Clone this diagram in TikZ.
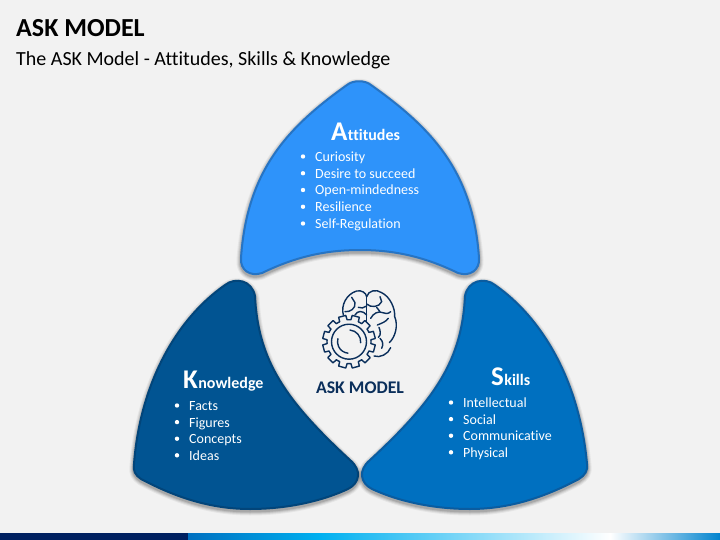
\documentclass[tikz,border=0pt]{standalone}
\usepackage{fontspec}
\setmainfont[Ligatures=NoCommon]{Carlito}
\usetikzlibrary{calc}
\definecolor{pagegray}{HTML}{F2F2F2}
\definecolor{attfill}{HTML}{2E93FA}
\definecolor{attline}{HTML}{2674C4}
\definecolor{knowfill}{HTML}{015492}
\definecolor{knowline}{HTML}{02457A}
\definecolor{skillfill}{HTML}{0070C0}
\definecolor{skillline}{HTML}{0A5CA0}
\definecolor{iconblue}{HTML}{0B2F5B}
\definecolor{bardark}{HTML}{002060}
\definecolor{barmid}{HTML}{00B0F0}
\tikzset{
	bighead/.style={text=white,font=\bfseries\fontsize{27}{27}\selectfont,inner sep=0pt,anchor=base west},
	smallhead/.style={text=white,font=\bfseries\fontsize{16}{16}\selectfont,inner sep=0pt,anchor=base west},
	bullet/.style={text=white,font=\fontsize{14}{14}\selectfont,inner sep=0pt,anchor=base west},
	dot/.style={circle,fill=white,inner sep=0pt,minimum size=4.4pt},
	iconline/.style={draw=iconblue,line width=1.4pt,line cap=round,line join=round}
}
\newcommand{\petal}[3]{
	\foreach \w/\o in {9/.05,7/.07,5/.09,3/.12}
		\draw[black,opacity=\o,line width=\w pt,yshift=-2pt,line join=round] #1;
	\draw[fill=#2,draw=#3,line width=2pt,line join=round] #1;
}
\begin{document}
\begin{tikzpicture}[x=1pt,y=-1pt]
	\useasboundingbox (0,0) rectangle (720,540);
	\fill[pagegray] (0,0) rectangle (720,540);
	% bottom bar
	\fill[bardark] (0,533) rectangle (188,540);
	\shade[left color=skillfill,right color=barmid] (188,533) rectangle (320,540);
	\shade[left color=barmid,right color=white] (320,533) rectangle (610,540);
	\shade[left color=white,right color=skillfill!70!barmid] (610,533) rectangle (720,540);
	% title
	\node[anchor=base west,inner sep=0pt,font=\bfseries\fontsize{26}{26}\selectfont] (title) at (16,37) {ASK MODEL};
	\node[anchor=base west,inner sep=0pt,font=\fontsize{20}{20}\selectfont] (subtitle) at (16,66) {The ASK Model - Attitudes, Skills \& Knowledge};
	% petals
	\petal{(347,85) .. controls (353,80) and (365,80) .. (371,85)
		.. controls (430,127) and (473,170) .. (479,258)
		.. controls (480,270) and (470,277) .. (458,273)
		.. controls (425,257) and (395,250) .. (360,250)
		.. controls (325,250) and (295,257) .. (262,273)
		.. controls (250,277) and (240,270) .. (241,258)
		.. controls (247,170) and (288,127) .. (347,85) -- cycle}{attfill}{attline}
	\petal{(225,285) .. controls (235,277) and (252,280) .. (255,296)
		.. controls (258,360) and (285,400) .. (350,460)
		.. controls (362,470) and (360,483) .. (348,489)
		.. controls (320,502) and (285,509) .. (250,509)
		.. controls (210,509) and (175,497) .. (141,479)
		.. controls (135,475) and (133,471) .. (134,464)
		.. controls (140,385) and (175,320) .. (225,285) -- cycle}{knowfill}{knowline}
	\petal{(495,285) .. controls (485,277) and (468,280) .. (465,296)
		.. controls (462,360) and (435,400) .. (370,460)
		.. controls (358,470) and (360,483) .. (372,489)
		.. controls (400,502) and (435,509) .. (470,509)
		.. controls (510,509) and (545,497) .. (579,479)
		.. controls (585,475) and (588,471) .. (587,464)
		.. controls (580,385) and (545,320) .. (495,285) -- cycle}{skillfill}{skillline}
	% attitudes text
	\node[bighead] (attA) at (331,141) {A};
	\node[smallhead] (attrest) at (attA.base east) {ttitudes};
	\foreach \t [count=\i] in {Curiosity,Desire to succeed,Open-mindedness,Resilience,Self-Regulation}{
		\node[bullet] (att\i) at (315,161.5+\i*16.75-16.75) {\t};
		\node[dot] (attdot\i) at (303,156.5+\i*16.75-16.75) {};
	}
	% knowledge text
	\node[bighead] (knowK) at (183,388) {K};
	\node[smallhead] (knowrest) at (knowK.base east) {nowledge};
	\foreach \t [count=\i] in {Facts,Figures,Concepts,Ideas}{
		\node[bullet] (know\i) at (189,410.5+\i*16.6-16.6) {\t};
		\node[dot] (knowdot\i) at (177,405.5+\i*16.6-16.6) {};
	}
	% skills text
	\node[bighead] (skillS) at (491,385) {S};
	\node[smallhead] (skillrest) at (skillS.base east) {kills};
	\foreach \t [count=\i] in {Intellectual,Social,Communicative,Physical}{
		\node[bullet] (skill\i) at (463,407.5+\i*16.6-16.6) {\t};
		\node[dot] (skilldot\i) at (451,402.5+\i*16.6-16.6) {};
	}
	% centre
	\node[text=iconblue,font=\bfseries\fontsize{17.8}{17.8}\selectfont,inner sep=0pt] (centre) at (360,388) {ASK MODEL};
	% brain
	\begin{scope}[shift={(300,280)},x=.3333pt,y=-.3333pt]
		\draw[iconline] (130,105) .. controls (122,75) and (140,42) .. (170,33) .. controls (185,30) and (198,38) .. (200,50);
		\draw[iconline] (200,50) .. controls (205,32) and (228,26) .. (245,38) .. controls (270,50) and (286,85) .. (284,110)
			.. controls (295,135) and (287,170) .. (268,188);
		\draw[iconline] (200,50) -- (200,135);
		\draw[iconline] (135,95) .. controls (150,97) and (168,85) .. (165,68) -- (155,52);
		\draw[iconline] (165,105) .. controls (172,92) and (188,90) .. (200,105);
		\draw[iconline] (175,82) .. controls (182,86) and (192,84) .. (200,78);
		\draw[iconline] (200,72) .. controls (212,84) and (238,82) .. (245,65) -- (240,50);
		\draw[iconline] (212,115) .. controls (220,100) and (235,92) .. (248,98) .. controls (255,102) and (265,102) .. (272,95);
		\draw[iconline] (230,82) -- (240,95);
		\draw[iconline] (232,135) .. controls (245,130) and (258,125) .. (265,115);
		\draw[iconline] (235,172) .. controls (245,165) and (240,150) .. (237,142);
		\draw[iconline] (240,175) .. controls (250,185) and (250,195) .. (245,205);
		\draw[iconline] (222,228) .. controls (240,235) and (265,222) .. (272,203);
	\end{scope}
	% gear
	\coordinate (gear) at (349,341.7);
	\draw[iconline,fill=pagegray] ($(gear)+(0:22)$)
		\foreach \a in {0,30,...,330}{
			-- ($(gear)+(\a+5:22)$) -- ($(gear)+(\a+7:26.5)$) -- ($(gear)+(\a+23:26.5)$) -- ($(gear)+(\a+25:22)$) arc[start angle=\a+25,end angle=\a+30,radius=22]
		} -- cycle;
	\draw[iconline] (gear) circle[radius=17.5];
	\draw[iconline] ($(gear)+(-85:11.7)$) arc[start angle=-85,end angle=5,radius=11.7];
	\draw[iconline] ($(gear)+(95:11.5)$) arc[start angle=95,end angle=195,radius=11.5];
\end{tikzpicture}
\end{document}
